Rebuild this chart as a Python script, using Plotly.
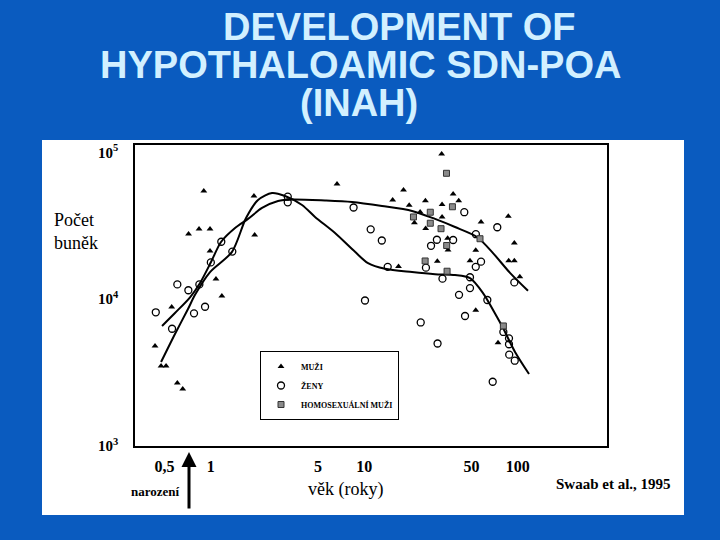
import plotly.graph_objects as go

# ---- data (age in years, number of cells) ----
men_age = [0.90, 1.91, 0.716, 0.838, 0.988, 1.93, 0.988, 1.08, 1.18, 0.556, 0.433, 0.474, 0.511, 0.605, 0.656,
           6.64, 31.9, 18.0, 15.3, 19.6, 25.0, 32.1, 37.9, 41.2, 23.1, 21.2, 32.1, 25.1, 57.6, 86.7,
           34.9, 35.1, 53.2, 29.9, 16.7, 48.8, 87.2, 94.9, 94.9, 103, 53.2, 74.3]
men_cells = [54500, 50400, 27800, 30000, 30000, 27400, 21300, 13700, 10500, 8840, 4800, 3510, 3510, 2690, 2440,
             60900, 97400, 55400, 47400, 43600, 46800, 44100, 52000, 46800, 39200, 33200, 36300, 30300, 33500, 36700,
             26000, 21600, 21500, 18100, 16700, 18300, 18300, 18300, 24100, 14200, 8400, 5050]

women_age = [3.17, 3.17, 1.17, 1.38, 1.00, 0.605, 0.714, 0.842, 0.438, 0.559, 0.777, 0.917,
             8.51, 11.0, 13.0, 14.2, 25.2, 27.2, 29.7, 37.9, 32.3, 10.1, 44.8, 73.5, 53.3,
             57.6, 53.2, 48.8, 48.8, 94.9, 41.4, 63.3, 45.3, 23.3, 80.5, 87.6, 87.6, 87.9, 95.5, 68.6, 30.0]
women_cells = [49900, 45700, 24600, 21100, 17800, 12600, 11500, 12600, 8140, 6290, 8010, 8880,
               42100, 29900, 25100, 16600, 16400, 23100, 25400, 25300, 13800, 9790, 39100, 30900, 27700,
               18000, 16600, 14100, 11900, 13000, 10700, 9870, 7680, 6940, 5980, 5410, 4930, 4190, 3810, 2740, 4990]

homo_age = [34.3, 37.5, 20.9, 26.9, 26.9, 31.6, 34.4, 24.9, 34.6, 56.7, 80.5]
homo_cells = [72000, 42600, 36300, 39100, 32900, 30200, 23200, 18200, 15500, 25800, 6570]

curve_a_age = [0.474, 0.584, 0.710, 0.789, 0.988, 1.374, 1.696, 2.030, 2.504, 3.043, 3.928, 4.773,
               6.444, 8.698, 10.57, 13.64, 20.46, 28.88, 38.98, 48.8, 59.33, 73.19, 80.10, 95.9, 118.3]
curve_a_cells = [3730, 5790, 8570, 10700, 15300, 21000, 35700, 47400, 52800, 50400, 43800, 36300,
                 28200, 21000, 17600, 16100, 15300, 14800, 14600, 13900, 11000, 7560, 6360, 4370, 3090]

curve_b_age = [0.481, 0.584, 0.732, 0.851, 1.003, 1.165, 1.438, 1.747, 2.156, 2.741, 3.381, 5.546,
               8.317, 13.04, 20.46, 28.88, 38.98, 54.23, 68.93, 88.96, 116.5]
curve_b_cells = [6570, 8050, 10300, 12900, 17900, 24500, 30500, 35200, 41800, 46600, 47700, 47000,
                 45900, 43100, 39900, 35200, 31000, 26500, 20600, 15100, 11400]

x_ticks = [0.5, 1, 5, 10, 50, 100]
x_labels = ["0,5", "1", "5", "10", "50", "100"]
y_ticks = [1000, 10000, 100000]
y_labels = ["10<sup>3</sup>", "10<sup>4</sup>", "10<sup>5</sup>"]

legend_names = ["MUŽI", "ŽENY", "HOMOSEXUÁLNÍ MUŽI"]

SERIF = "Liberation Serif, Times New Roman, serif"

fig = go.Figure()

for ca, cc in [(curve_a_age, curve_a_cells), (curve_b_age, curve_b_cells)]:
    fig.add_trace(go.Scatter(x=ca, y=cc, mode="lines", showlegend=False, hoverinfo="skip",
                             line=dict(color="black", width=2, shape="spline", smoothing=0.8)))

fig.add_trace(go.Scatter(x=men_age, y=men_cells, mode="markers", name=legend_names[0],
                         marker=dict(symbol="triangle-up", size=6, color="black")))
fig.add_trace(go.Scatter(x=women_age, y=women_cells, mode="markers", name=legend_names[1],
                         marker=dict(symbol="circle-open", size=7, color="black", line=dict(width=1.3, color="black"))))
fig.add_trace(go.Scatter(x=homo_age, y=homo_cells, mode="markers", name=legend_names[2],
                         marker=dict(symbol="square", size=6, color="#8a8a8a", line=dict(width=1, color="#333"))))

L, R, T, B = 135, 607, 145, 446
W = R - L
H = B - T


def px(x):
    return (x - L) / W


def py(y):
    return (B - y) / H


fig.add_shape(type="rect", xref="paper", yref="paper", x0=px(42), x1=px(684), y0=py(515), y1=py(140),
              fillcolor="white", line=dict(width=0), layer="below")

title_font = dict(family="Liberation Sans, Arial, sans-serif", size=38, color="#D2F0FF", weight="bold")
annotations = [
    dict(text="DEVELOPMENT OF", x=px(399), y=py(27), font=title_font),
    dict(text="HYPOTHALOAMIC SDN-POA", x=px(360), y=py(65), font=title_font),
    dict(text="(INAH)", x=px(359), y=py(103), font=title_font),
    dict(text="Počet<br>buněk", x=px(52), y=py(231), xanchor="left", align="left",
         font=dict(family=SERIF, size=18, color="black")),
    dict(text="věk (roky)", x=px(345), y=py(489), font=dict(family=SERIF, size=18, color="black")),
    dict(text="narození", x=px(155), y=py(492), font=dict(family=SERIF, size=13, color="black", weight="bold")),
    dict(text="Swaab et al., 1995", x=px(613), y=py(484),
         font=dict(family=SERIF, size=15, color="black", weight="bold")),
]
for a in annotations:
    a.update(xref="paper", yref="paper", showarrow=False)
    a.setdefault("xanchor", "center")
    a.setdefault("yanchor", "middle")

annotations.append(dict(text="", xref="paper", yref="paper", x=px(189), y=py(452), ax=0, ay=58,
                        showarrow=True, arrowhead=2, arrowsize=1, arrowwidth=3, arrowcolor="black"))

fig.update_layout(
    width=720, height=540,
    margin=dict(l=L, r=720 - R, t=T, b=540 - B),
    paper_bgcolor="#0a5bbf",
    plot_bgcolor="white",
    annotations=annotations,
    legend=dict(x=px(260), y=py(351), xanchor="left", yanchor="top", bgcolor="white",
                bordercolor="black", borderwidth=1, tracegroupgap=0, itemwidth=30,
                font=dict(family=SERIF, size=8, color="black", weight="bold")),
)
fig.update_xaxes(type="log", range=[-0.494, 2.581], tickvals=x_ticks, ticktext=x_labels,
                 showgrid=False, zeroline=False, showline=True, mirror=True, linecolor="black", linewidth=1.5,
                 ticks="", ticklabelstandoff=5,
                 tickfont=dict(family=SERIF, size=16, color="black", weight="bold"))
fig.update_yaxes(type="log", range=[3.0, 5.05], tickvals=y_ticks, ticktext=y_labels,
                 showgrid=False, zeroline=False, showline=True, mirror=True, linecolor="black", linewidth=1.5,
                 ticks="", ticklabelstandoff=12,
                 tickfont=dict(family=SERIF, size=15, color="black", weight="bold"))

fig.write_html("out.html")
